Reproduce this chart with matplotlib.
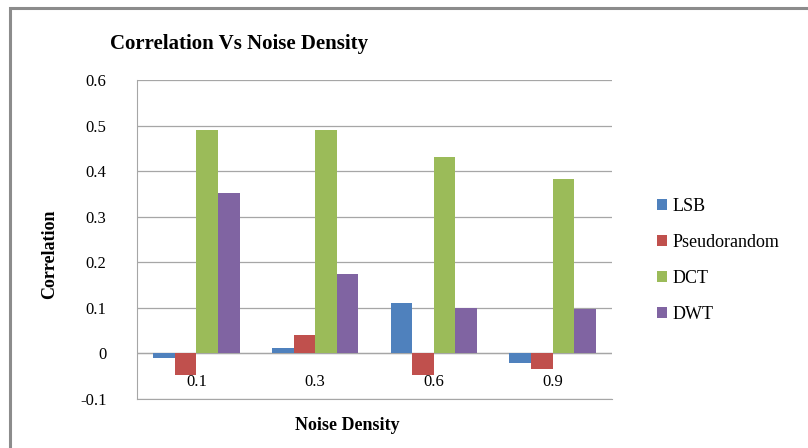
import matplotlib.pyplot as plt
import numpy as np
from matplotlib.patches import Rectangle

# dados
densidade = ['0.1', '0.3', '0.6', '0.9']
lsb = [-0.01, 0.012, 0.11, -0.022]
pseudo = [-0.048, 0.04, -0.047, -0.035]
dct = [0.49, 0.49, 0.43, 0.382]
dwt = [0.353, 0.175, 0.1, 0.097]
series = ['LSB', 'Pseudorandom', 'DCT', 'DWT']
cores = ['#4F81BD', '#C0504D', '#9BBB59', '#8064A2']

plt.rcParams['font.family'] = ['Liberation Serif', 'DejaVu Serif']

fig = plt.figure(figsize=(8.08, 4.48), dpi=100)
# moldura do gráfico (só aparecem a esquerda e o topo)
fig.patches.append(Rectangle((10 / 808, -0.05), 1.2, (448 - 8) / 448 + 0.05, transform=fig.transFigure,
                             fill=False, edgecolor='#8c8c8c', linewidth=2.2))
ax = fig.add_axes([137 / 808, (448 - 399) / 448, 475 / 808, 319 / 448])

x = np.arange(len(densidade))
largura = 1 / 5.5
for i, (nome, valores) in enumerate(zip(series, [lsb, pseudo, dct, dwt])):
    ax.bar(x + (i - 1.5) * largura, valores, largura, color=cores[i], label=nome, zorder=3)

ax.set_xlim(-0.5, 3.5)
ax.set_ylim(-0.1, 0.6)
ax.set_yticks(np.arange(-0.1, 0.61, 0.1))
ax.set_yticklabels(['-0.1', '0', '0.1', '0.2', '0.3', '0.4', '0.5', '0.6'], fontsize=12)
ax.grid(axis='y', color='#a6a6a6', linewidth=0.9, zorder=0)
ax.axhline(0, color='#a6a6a6', linewidth=0.9, zorder=1)
ax.tick_params(axis='y', length=0, pad=22)
ax.set_xticks([])
for s in ['top', 'right']:
    ax.spines[s].set_visible(False)
ax.spines['bottom'].set_color('#a6a6a6')
ax.spines['left'].set_color('#a6a6a6')

for xi, rot in zip(x, densidade):
    ax.text(xi, -0.062, rot, ha='center', va='center', fontsize=12)

ax.set_title('Correlation Vs Noise Density', fontsize=15, fontweight='bold', x=0.215, pad=22)
ax.set_ylabel('Correlation', fontsize=13, fontweight='bold')
ax.yaxis.set_label_coords(-0.166, 0.455)
ax.set_xlabel('Noise Density', fontsize=13, fontweight='bold')
ax.xaxis.set_label_coords(0.442, -0.055)

ax.legend(loc='center left', bbox_to_anchor=(1.06, 0.435), frameon=False, fontsize=13,
          handlelength=0.55, handleheight=0.55, handletextpad=0.35, labelspacing=1.05)

plt.savefig('out.png', dpi=100)
